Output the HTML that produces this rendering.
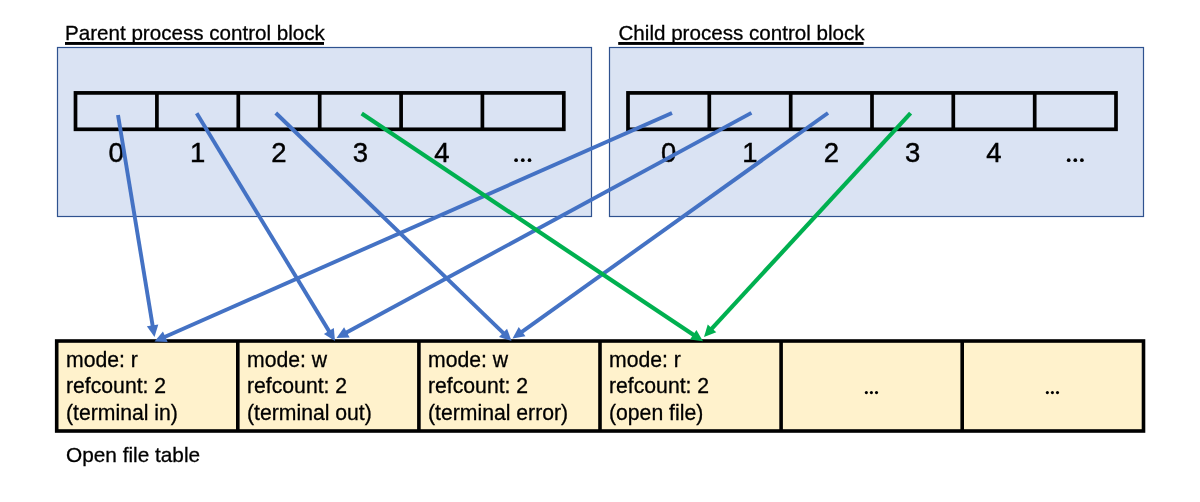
<!DOCTYPE html>
<html>
<head>
<meta charset="utf-8">
<style>
html,body{margin:0;padding:0;background:#fff;width:1200px;height:502px;overflow:hidden}
svg{display:block;will-change:transform}
text{font-family:"Liberation Sans",sans-serif;fill:#000}
</style>
</head>
<body>
<svg width="1200" height="502" viewBox="0 0 1200 502">
<!-- titles -->
<text x="65" y="39.5" font-size="20.6" stroke="#000" stroke-width="0.3">Parent process control block</text>
<rect x="65" y="42" width="259" height="2.9" fill="#000"/>
<text x="618.5" y="39.5" font-size="20.6" stroke="#000" stroke-width="0.3">Child process control block</text>
<rect x="618.2" y="42" width="245.4" height="2.9" fill="#000"/>

<!-- blocks -->
<rect x="57.5" y="47.5" width="534" height="169" fill="#DAE3F3" stroke="#2F528F" stroke-width="1.2"/>
<rect x="609.5" y="47.5" width="534" height="169" fill="#DAE3F3" stroke="#2F528F" stroke-width="1.2"/>

<!-- parent array -->
<g fill="none" stroke="#000" stroke-width="3.7">
<rect x="75.5" y="92.9" width="488.3" height="36.4"/>
<path d="M156.9 92.9V129.3M238.3 92.9V129.3M319.7 92.9V129.3M401.1 92.9V129.3M482.4 92.9V129.3"/>
<rect x="628" y="92.9" width="488" height="36.4"/>
<path d="M709.3 92.9V129.3M790.7 92.9V129.3M872 92.9V129.3M953.3 92.9V129.3M1034.7 92.9V129.3"/>
</g>

<!-- index labels -->
<g font-size="27.5" text-anchor="middle" stroke="#000" stroke-width="0.45">
<text x="116.2" y="162">0</text>
<text x="197.6" y="162">1</text>
<text x="279" y="162">2</text>
<text x="360.4" y="162">3</text>
<text x="441.8" y="162">4</text>
<text x="668.7" y="162">0</text>
<text x="750" y="162">1</text>
<text x="831.3" y="162">2</text>
<text x="912.7" y="162">3</text>
<text x="994" y="162">4</text>
</g>
<g fill="#000">
<circle cx="516.1" cy="160.2" r="1.85"/><circle cx="522.8" cy="160.2" r="1.85"/><circle cx="529.5" cy="160.2" r="1.85"/>
<circle cx="1068.7" cy="160.2" r="1.85"/><circle cx="1075.3" cy="160.2" r="1.85"/><circle cx="1081.9" cy="160.2" r="1.85"/>
</g>

<!-- file table -->
<rect x="56.7" y="341" width="1086.8" height="90" fill="#FFF2CC"/>

<!-- arrows -->

<g fill="none" stroke="#000" stroke-width="3.6">
<rect x="56.7" y="341" width="1086.8" height="90"/>
<path d="M237.8 341V431M418.9 341V431M600 341V431M781.1 341V431M962.2 341V431"/>
</g>

<g font-size="21.2" stroke="#000" stroke-width="0.3">
<text x="66" y="367">mode: r</text>
<text x="66" y="393.3">refcount: 2</text>
<text x="66" y="419.5">(terminal in)</text>
<text x="247" y="367">mode: w</text>
<text x="247" y="393.3">refcount: 2</text>
<text x="247" y="419.5">(terminal out)</text>
<text x="428" y="367">mode: w</text>
<text x="428" y="393.3">refcount: 2</text>
<text x="428" y="419.5">(terminal error)</text>
<text x="609" y="367">mode: r</text>
<text x="609" y="393.3">refcount: 2</text>
<text x="609" y="419.5">(open file)</text>
<text x="66" y="461.5" font-size="20.8">Open file table</text>
</g>
<g fill="#000">
<circle cx="866.35" cy="392.6" r="1.55"/><circle cx="871.4" cy="392.6" r="1.55"/><circle cx="876.5" cy="392.6" r="1.55"/>
<circle cx="1047.35" cy="392.6" r="1.55"/><circle cx="1052.4" cy="392.6" r="1.55"/><circle cx="1057.5" cy="392.6" r="1.55"/>
</g>
<g id="arrows">
<line x1="118.00" y1="115.00" x2="152.91" y2="327.33" stroke="#4472C4" stroke-width="3.9"/>
<polygon points="154.50,337.00 146.86,326.30 158.31,324.42" fill="#4472C4"/>
<line x1="196.70" y1="113.30" x2="329.91" y2="332.62" stroke="#4472C4" stroke-width="3.9"/>
<polygon points="335.00,341.00 323.92,333.93 333.83,327.90" fill="#4472C4"/>
<line x1="275.80" y1="113.00" x2="504.46" y2="334.19" stroke="#4472C4" stroke-width="3.9"/>
<polygon points="511.50,341.00 498.99,336.96 507.05,328.63" fill="#4472C4"/>
<line x1="672.00" y1="113.00" x2="163.46" y2="337.54" stroke="#4472C4" stroke-width="3.9"/>
<polygon points="154.50,341.50 162.95,331.43 167.64,342.04" fill="#4472C4"/>
<line x1="751.40" y1="112.90" x2="345.11" y2="333.33" stroke="#4472C4" stroke-width="3.9"/>
<polygon points="336.50,338.00 344.11,327.27 349.64,337.47" fill="#4472C4"/>
<line x1="828.00" y1="113.00" x2="520.47" y2="332.80" stroke="#4472C4" stroke-width="3.9"/>
<polygon points="512.50,338.50 518.73,326.92 525.47,336.36" fill="#4472C4"/>
<line x1="361.70" y1="113.40" x2="694.85" y2="335.86" stroke="#00B050" stroke-width="4.2"/>
<polygon points="703.00,341.30 689.97,339.57 696.41,329.92" fill="#00B050"/>
<line x1="910.60" y1="113.20" x2="710.65" y2="329.80" stroke="#00B050" stroke-width="4.2"/>
<polygon points="704.00,337.00 707.74,324.40 716.27,332.26" fill="#00B050"/>
</g>
</svg>
</body>
</html>
